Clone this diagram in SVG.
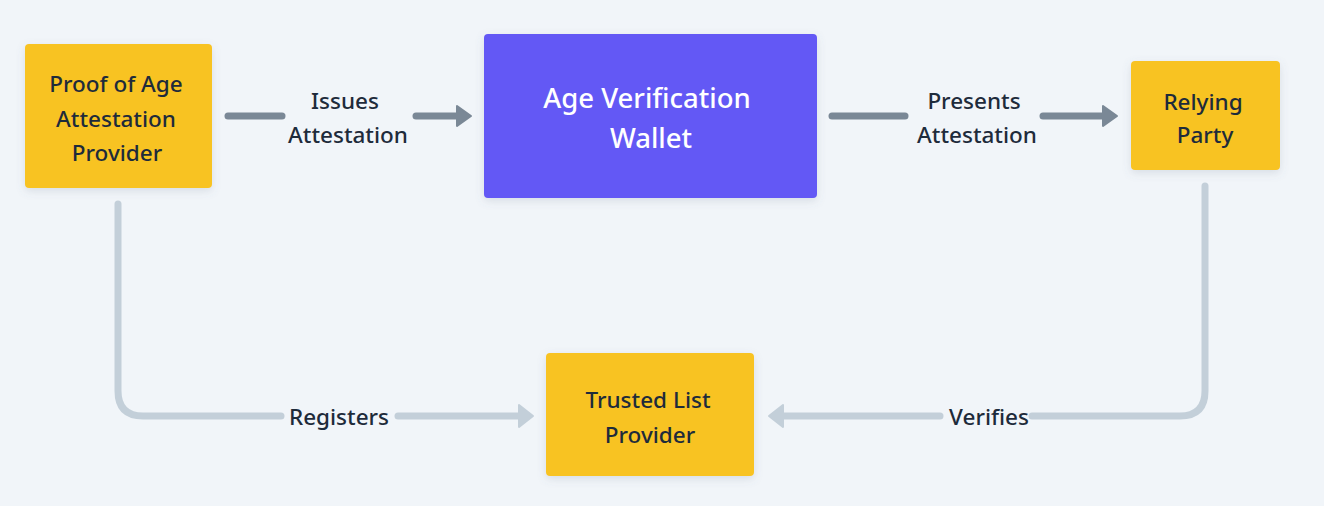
<svg xmlns="http://www.w3.org/2000/svg" width="1324" height="506" viewBox="0 0 1324 506">
<defs>
<style>
.node-y{fill:#f8c324;}
.node-p{fill:#6359f5;}
.t{font-family:"Noto Sans","DejaVu Sans",sans-serif;font-size:22.5px;font-weight:500;fill:#1e2b3b;text-anchor:middle;dominant-baseline:central;}
.tw{font-family:"Noto Sans","DejaVu Sans",sans-serif;font-size:27.5px;fill:#ffffff;text-anchor:middle;dominant-baseline:central;font-weight:500;}
.dk{fill:none;stroke:#7a8896;stroke-width:7;stroke-linecap:round;}
.lt{fill:none;stroke:#c3cfd9;stroke-width:7;stroke-linecap:round;}
.ahd{fill:#7a8896;stroke:#7a8896;stroke-width:2;stroke-linejoin:round;}
.ahl{fill:#c3cfd9;stroke:#c3cfd9;stroke-width:2;stroke-linejoin:round;}
</style>
<filter id="sh" x="-20%" y="-20%" width="140%" height="150%">
<feDropShadow dx="0" dy="3" stdDeviation="4" flood-color="#64748b" flood-opacity="0.18"/>
</filter>
</defs>
<rect x="0" y="0" width="1324" height="506" fill="#f1f5f9"/>
<g id="connectors">
<path class="dk" d="M228 116 H282"/>
<path class="dk" d="M416 116 H458"/>
<polygon class="ahd" points="457,106 471,116 457,126"/>
<path class="dk" d="M832 116 H905"/>
<path class="dk" d="M1043 116 H1104"/>
<polygon class="ahd" points="1103,106 1117,116 1103,126"/>
<path class="lt" d="M118 204 V391 Q118 416 143 416 H281"/>
<path class="lt" d="M398 416 H520"/>
<polygon class="ahl" points="519,405 533,416 519,427"/>
<path class="lt" d="M1205 186 V391 Q1205 416 1180 416 H1032"/>
<path class="lt" d="M940 416 H782"/>
<polygon class="ahl" points="783,405 769,416 783,427"/>
<text class="t" x="345" y="100">Issues</text>
<text class="t" x="348" y="134">Attestation</text>
<text class="t" x="974" y="100">Presents</text>
<text class="t" x="977" y="134">Attestation</text>
<text class="t" x="339" y="416">Registers</text>
<text class="t" x="989" y="416">Verifies</text>
</g>
<g id="proof-of-age">
<rect class="node-y" x="25" y="44" width="187" height="144" rx="4" filter="url(#sh)"/>
<text class="t" x="116" y="83">Proof of Age</text>
<text class="t" x="116" y="118">Attestation</text>
<text class="t" x="117" y="152">Provider</text>
</g>
<g id="wallet">
<rect class="node-p" x="484" y="34" width="333" height="164" rx="4" filter="url(#sh)"/>
<text class="tw" x="647" y="97">Age Verification</text>
<text class="tw" x="651" y="137">Wallet</text>
</g>
<g id="relying-party">
<rect class="node-y" x="1131" y="61" width="149" height="109" rx="4" filter="url(#sh)"/>
<text class="t" x="1203" y="101">Relying</text>
<text class="t" x="1205" y="134">Party</text>
</g>
<g id="trusted-list">
<rect class="node-y" x="546" y="353" width="208" height="123" rx="4" filter="url(#sh)"/>
<text class="t" x="648" y="399">Trusted List</text>
<text class="t" x="650" y="434">Provider</text>
</g>
</svg>
